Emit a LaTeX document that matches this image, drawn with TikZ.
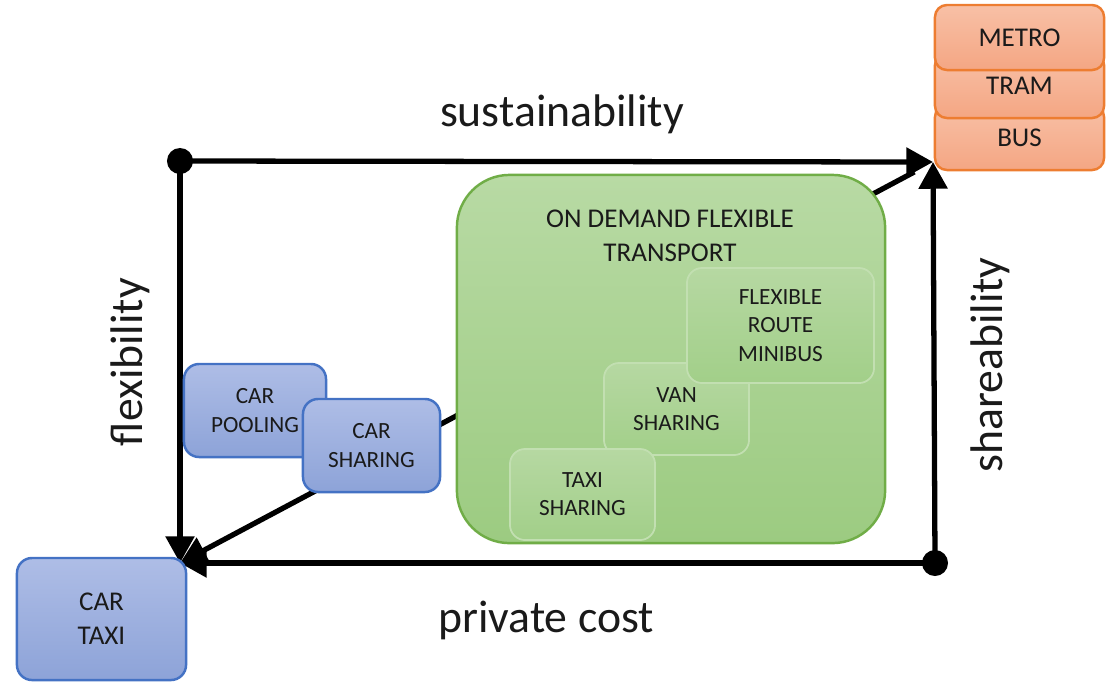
\documentclass[tikz,border=0pt]{standalone}
\usepackage{fontspec}
\setmainfont{Carlito}
\usetikzlibrary{arrows.meta}

\definecolor{cartop}{HTML}{AEBDE6}
\definecolor{carbot}{HTML}{8DA3D8}
\definecolor{carline}{HTML}{4472C4}
\definecolor{odtop}{HTML}{B8DAA4}
\definecolor{odbot}{HTML}{9CCB81}
\definecolor{odline}{HTML}{70AD47}
\definecolor{subtop}{HTML}{B6D8A2}
\definecolor{subbot}{HTML}{A2CF89}
\definecolor{subline}{HTML}{C2DFB1}
\definecolor{pttop}{HTML}{F8C0A6}
\definecolor{ptbot}{HTML}{F4A683}
\definecolor{ptline}{HTML}{ED7D31}
\definecolor{ink}{HTML}{1A1A1A}

\begin{document}
\begin{tikzpicture}[x=0.01cm,y=-0.01cm,
  every node/.style={inner sep=0pt,align=center,text=ink},
  arr/.style={line width=1.5pt,-{Triangle[length=7.6pt,width=8pt]}},
  dot/.style={circle,fill=black,minimum size=7.4pt},
  axislabel/.style={font=\fontsize{13}{15}\selectfont},
  carbox/.style={draw=carline,line width=0.7pt,rounded corners=4.3pt,
                 top color=cartop,bottom color=carbot},
  small/.style={font=\fontsize{6.6}{8}\selectfont},
  big/.style={font=\fontsize{7.7}{9.6}\selectfont},
  odbox/.style={draw=odline,line width=0.7pt,rounded corners=15pt,
                top color=odtop,bottom color=odbot},
  subbox/.style={draw=subline,line width=0.5pt,rounded corners=4.3pt,
                 top color=subtop,bottom color=subbot,small},
  ptbox/.style={draw=ptline,line width=0.7pt,rounded corners=3.4pt,
                top color=pttop,bottom color=ptbot,big,
                minimum width=1.69cm,minimum height=0.65cm}]
\useasboundingbox (0,0) rectangle (1116,681);

% corners of the frame
\node[dot] (tl) at (180,161) {};
\node[dot] (br) at (935,563) {};
\coordinate (tr) at (933,162);
\coordinate (bl) at (180,563);

% arrows
\draw[arr,shorten <=6pt] (tr) -- (bl);
\draw[arr] (tl.center) -- (tr);
\draw[arr] (tl.center) -- (bl);
\draw[arr] (br.center) -- (tr);
\draw[arr] (br.center) -- (bl);

% axis labels
\node[axislabel] (sust)  at (562,114) {sustainability};
\node[axislabel] (cost)  at (546,620) {private cost};
\node[axislabel,rotate=90] (flex)  at (130,362) {flexibility};
\node[axislabel,rotate=90] (share) at (990,365) {shareability};

% on demand flexible transport
\node[odbox,minimum width=4.28cm,minimum height=3.68cm] (odft) at (671,359) {};
\node[big] (odfttitle) at (670,236) {ON DEMAND FLEXIBLE\\TRANSPORT};
\node[subbox,minimum width=1.45cm,minimum height=0.92cm] (van) at (676.5,409) {VAN\\SHARING};
\node[subbox,minimum width=1.87cm,minimum height=1.15cm] (minibus) at (780.5,325.5) {FLEXIBLE\\ROUTE\\MINIBUS};
\node[subbox,minimum width=1.45cm,minimum height=0.91cm] (taxish) at (582.5,494.5) {TAXI\\SHARING};

% car modes
\node[carbox,small,minimum width=1.42cm,minimum height=0.93cm] (pooling) at (255,410.5) {CAR\\POOLING};
\node[carbox,small,minimum width=1.37cm,minimum height=0.93cm] (sharing) at (371.5,445.5) {CAR\\SHARING};
\node[carbox,big,minimum width=1.69cm,minimum height=1.22cm] (taxi) at (101.5,619) {CAR\\TAXI};

% public transport
\node[ptbox] (bus)   at (1019.5,137.5) {BUS};
\node[ptbox] (tram)  at (1019.5,85.5)  {TRAM};
\node[ptbox] (metro) at (1019.5,37.5)  {METRO};
\end{tikzpicture}
\end{document}
